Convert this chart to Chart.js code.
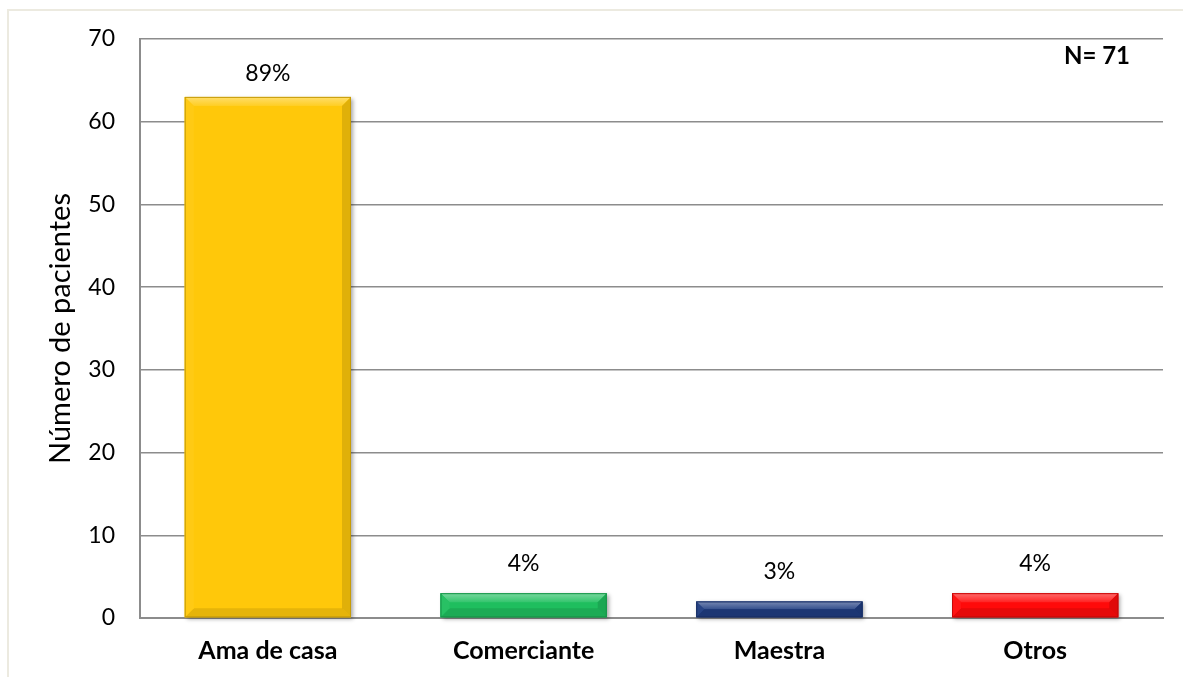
<!DOCTYPE html>
<html>
<head>
<meta charset="utf-8">
<script src="https://cdn.jsdelivr.net/npm/chart.js@4.4.1/dist/chart.umd.min.js"></script>
<style>
  html, body { margin: 0; padding: 0; background: #ffffff; }
  #wrap { position: relative; width: 1183px; height: 677px; }
</style>
</head>
<body>
<div id="wrap"><canvas id="chart" width="1183" height="677"></canvas></div>
<script>
// Ocupación de las pacientes
const categories = ['Ama de casa', 'Comerciante', 'Maestra', 'Otros'];
const patients = [63, 3, 2, 3];
const percentLabels = ['89%', '4%', '3%', '4%'];
const barColors = ['#FFC80A', '#1FBE5E', '#1F3C80', '#FF0A0A'];
const yTicks = [0, 10, 20, 30, 40, 50, 60, 70];
const totalLabel = 'N= 71';

const FONT = 'Lato, "Open Sans", sans-serif';

function shade(hex, amt) {
  const n = parseInt(hex.slice(1), 16);
  let r = (n >> 16) & 255, g = (n >> 8) & 255, b = n & 255;
  const f = c => Math.max(0, Math.min(255, Math.round(amt >= 0 ? c + (255 - c) * amt : c * (1 + amt))));
  return `rgb(${f(r)},${f(g)},${f(b)})`;
}

// Outer frame of the chart object (left and top edges)
const framePlugin = {
  id: 'frame',
  beforeDraw(chart) {
    const ctx = chart.ctx;
    ctx.save();
    ctx.strokeStyle = '#ECEAE0';
    ctx.lineWidth = 2;
    ctx.beginPath();
    ctx.moveTo(8, chart.height);
    ctx.lineTo(8, 10);
    ctx.lineTo(chart.width, 10);
    ctx.stroke();
    ctx.restore();
  }
};

// Beveled bars with a soft drop shadow, drawn over each bar element
const bevelPlugin = {
  id: 'bevel',
  afterDatasetsDraw(chart) {
    const ctx = chart.ctx;
    const meta = chart.getDatasetMeta(0);
    meta.data.forEach((bar, i) => {
      const color = barColors[i];
      const w = bar.width;
      const x0 = bar.x - w / 2, x1 = bar.x + w / 2;
      const y0 = bar.y, y1 = bar.base;
      const h = y1 - y0;
      const b = Math.min(9, h / 2);
      ctx.save();
      // shadow
      ctx.shadowColor = 'rgba(0,0,0,0.35)';
      ctx.shadowBlur = 4;
      ctx.shadowOffsetX = 2;
      ctx.shadowOffsetY = 2;
      ctx.fillStyle = color;
      ctx.fillRect(x0, y0, w, h);
      ctx.restore();

      ctx.save();
      // top facet
      const gTop = ctx.createLinearGradient(0, y0, 0, y0 + b);
      gTop.addColorStop(0, shade(color, 0.4));
      gTop.addColorStop(1, shade(color, 0.1));
      ctx.fillStyle = gTop;
      ctx.beginPath();
      ctx.moveTo(x0, y0); ctx.lineTo(x1, y0); ctx.lineTo(x1 - b, y0 + b); ctx.lineTo(x0 + b, y0 + b);
      ctx.closePath(); ctx.fill();
      // bottom facet
      ctx.fillStyle = shade(color, -0.1);
      ctx.beginPath();
      ctx.moveTo(x0, y1); ctx.lineTo(x1, y1); ctx.lineTo(x1 - b, y1 - b); ctx.lineTo(x0 + b, y1 - b);
      ctx.closePath(); ctx.fill();
      // left facet
      ctx.fillStyle = shade(color, 0.04);
      ctx.beginPath();
      ctx.moveTo(x0, y0); ctx.lineTo(x0 + b, y0 + b); ctx.lineTo(x0 + b, y1 - b); ctx.lineTo(x0, y1);
      ctx.closePath(); ctx.fill();
      // right facet
      ctx.fillStyle = shade(color, -0.12);
      ctx.beginPath();
      ctx.moveTo(x1, y0); ctx.lineTo(x1 - b, y0 + b); ctx.lineTo(x1 - b, y1 - b); ctx.lineTo(x1, y1);
      ctx.closePath(); ctx.fill();
      // thin edge
      ctx.strokeStyle = shade(color, -0.22);
      ctx.lineWidth = 1;
      ctx.strokeRect(x0 + 0.5, y0 + 0.5, w - 1, h - 1);
      ctx.restore();
    });
  }
};

// Percentage above each bar and the sample size note
const labelPlugin = {
  id: 'labels',
  afterDraw(chart) {
    const ctx = chart.ctx;
    const area = chart.chartArea;
    const meta = chart.getDatasetMeta(0);
    ctx.save();
    ctx.fillStyle = '#000000';
    ctx.textAlign = 'center';
    ctx.textBaseline = 'middle';
    ctx.font = `23px ${FONT}`;
    meta.data.forEach((bar, i) => {
      const y = Math.max(bar.y - 30, area.top + 35);
      ctx.fillText(percentLabels[i], bar.x, y);
    });
    ctx.font = `bold 24px ${FONT}`;
    ctx.fillText(totalLabel, 1097, 56);
    ctx.restore();
  }
};

new Chart(document.getElementById('chart'), {
  type: 'bar',
  data: {
    labels: categories,
    datasets: [{
      data: patients,
      backgroundColor: barColors,
      borderWidth: 0,
      barPercentage: 0.65,
      categoryPercentage: 1.0
    }]
  },
  options: {
    responsive: false,
    animation: false,
    events: [],
    layout: { padding: { left: 0, top: 39, right: 20, bottom: 0 } },
    plugins: {
      legend: { display: false },
      tooltip: { enabled: false },
      title: { display: false }
    },
    scales: {
      x: {
        grid: { display: false, drawTicks: false },
        border: { display: true, color: '#8C8C8C', width: 2 },
        ticks: {
          color: '#000000',
          font: { family: FONT, size: 25, weight: 'bold' },
          padding: 18,
          maxRotation: 0
        },
        afterFit(scale) { scale.height = 59; }
      },
      y: {
        min: 0,
        max: 70,
        afterBuildTicks(scale) { scale.ticks = yTicks.map(v => ({ value: v })); },
        grid: { color: '#8C8C8C', lineWidth: 1.5, drawTicks: false },
        border: { display: true, color: '#8C8C8C', width: 2 },
        ticks: {
          color: '#000000',
          font: { family: FONT, size: 23 },
          padding: 25
        },
        title: {
          display: true,
          text: 'Número de pacientes',
          color: '#000000',
          font: { family: FONT, size: 29 },
          padding: { top: 43, bottom: 0 }
        },
        afterFit(scale) { scale.width = 140; }
      }
    }
  },
  plugins: [framePlugin, bevelPlugin, labelPlugin]
});
</script>
</body>
</html>
